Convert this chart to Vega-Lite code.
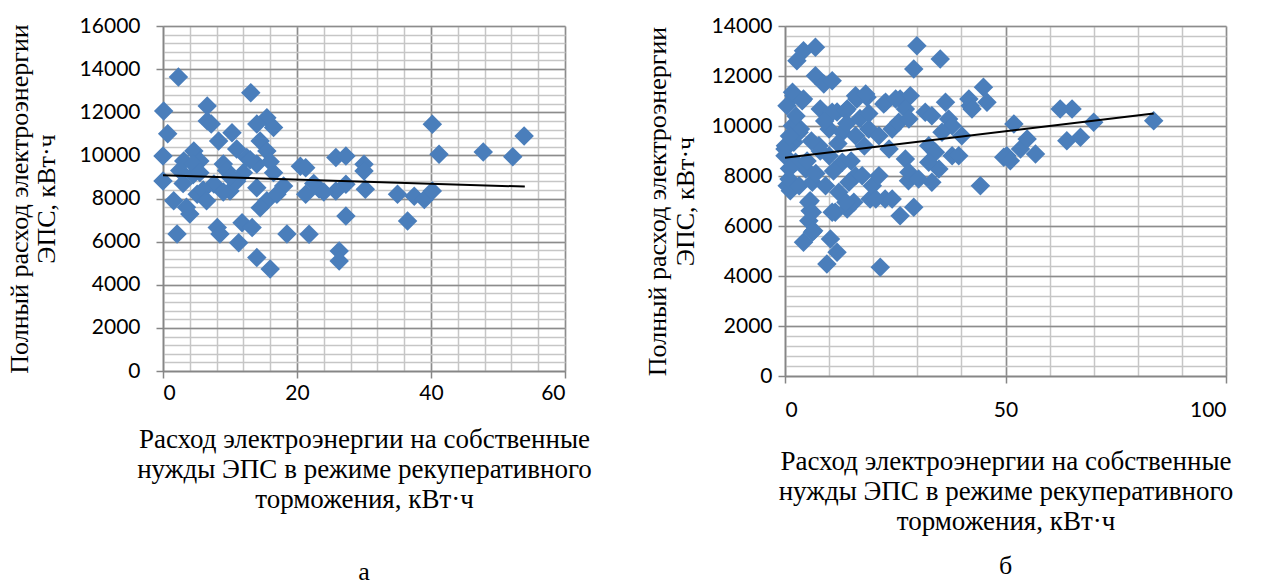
{
  "$schema": "https://vega.github.io/schema/vega-lite/v6.json",
  "background": "white",
  "padding": {"left": 6, "top": 15, "right": 5, "bottom": 5},
  "bounds": "flush",
  "spacing": 220,
  "config": {"view": {"stroke": null}},
  "datasets": {
    "L": [
      {"x": 0.1, "y": 12060}, {"x": 2.3, "y": 13640}, {"x": 13.1, "y": 12910}, {"x": 6.6, "y": 12290},
      {"x": 0.7, "y": 11000}, {"x": 0, "y": 9970}, {"x": 6.6, "y": 11600}, {"x": 7.2, "y": 11460},
      {"x": 15.5, "y": 11750}, {"x": 16.5, "y": 11290}, {"x": 14, "y": 11450}, {"x": 10.3, "y": 11050},
      {"x": 8.3, "y": 10670}, {"x": 14.5, "y": 10670}, {"x": 15.5, "y": 10200}, {"x": 11, "y": 10300},
      {"x": 4.6, "y": 10200}, {"x": 3.1, "y": 9740}, {"x": 5.5, "y": 9740}, {"x": 0, "y": 8810},
      {"x": 9, "y": 9600}, {"x": 12.5, "y": 9900}, {"x": 14, "y": 9600}, {"x": 20.5, "y": 9500},
      {"x": 1.6, "y": 7890}, {"x": 4, "y": 7280}, {"x": 5.1, "y": 8200}, {"x": 7.6, "y": 8670},
      {"x": 10, "y": 8350}, {"x": 14, "y": 8500}, {"x": 15.5, "y": 7890}, {"x": 14.5, "y": 7570},
      {"x": 18, "y": 8580}, {"x": 2.1, "y": 6350}, {"x": 8.1, "y": 6650}, {"x": 8.5, "y": 6350},
      {"x": 11.3, "y": 5950}, {"x": 11.8, "y": 6880}, {"x": 13.3, "y": 6650}, {"x": 14, "y": 5260},
      {"x": 16, "y": 4730}, {"x": 18.5, "y": 6350}, {"x": 40.2, "y": 11440}, {"x": 41.2, "y": 10050},
      {"x": 21.3, "y": 9430}, {"x": 25.8, "y": 9900}, {"x": 27.3, "y": 9970}, {"x": 30, "y": 9585},
      {"x": 30, "y": 9280}, {"x": 30.2, "y": 8430}, {"x": 27.3, "y": 8660}, {"x": 25.8, "y": 8350},
      {"x": 23.3, "y": 8440}, {"x": 21.3, "y": 8200}, {"x": 27.3, "y": 7190}, {"x": 21.8, "y": 6340},
      {"x": 26.3, "y": 5570}, {"x": 26.3, "y": 5100}, {"x": 35, "y": 8200}, {"x": 36.5, "y": 6960},
      {"x": 37.5, "y": 8100}, {"x": 39, "y": 7950}, {"x": 40.2, "y": 8350}, {"x": 53.9, "y": 10900},
      {"x": 52.2, "y": 9940}, {"x": 47.8, "y": 10160}, {"x": 3, "y": 8700}, {"x": 4.5, "y": 9100},
      {"x": 6, "y": 8400}, {"x": 9.5, "y": 9300}, {"x": 12, "y": 9200}, {"x": 16.5, "y": 9200},
      {"x": 17, "y": 8200}, {"x": 22.5, "y": 8700}, {"x": 24, "y": 8300}, {"x": 2.5, "y": 9300},
      {"x": 6.5, "y": 7900}, {"x": 11, "y": 8800}, {"x": 13, "y": 9800}, {"x": 9, "y": 8300},
      {"x": 3.5, "y": 7600}, {"x": 4.5, "y": 9600}, {"x": 5.5, "y": 9200}, {"x": 10, "y": 9000},
      {"x": 16, "y": 9700}
    ],
    "R": [
      {"x": 2.7, "y": 12610}, {"x": 4.2, "y": 13010}, {"x": 6.9, "y": 13150}, {"x": 6.9, "y": 12010},
      {"x": 8.8, "y": 11680}, {"x": 10.7, "y": 11810}, {"x": 0.45, "y": 10810}, {"x": 2, "y": 11210},
      {"x": 4.2, "y": 11080}, {"x": 8, "y": 10680}, {"x": 11.8, "y": 10560}, {"x": 14.1, "y": 10680},
      {"x": 16.3, "y": 11080}, {"x": 18.6, "y": 11150}, {"x": 22.4, "y": 10880}, {"x": 26.1, "y": 11080},
      {"x": 28.4, "y": 11210}, {"x": 29.2, "y": 12280}, {"x": 29.9, "y": 13210}, {"x": 35.2, "y": 12680},
      {"x": 42, "y": 10810}, {"x": 45, "y": 11550}, {"x": 45.8, "y": 10950}, {"x": 50.3, "y": 8810},
      {"x": 44.3, "y": 7610}, {"x": 0.5, "y": 7610}, {"x": 0, "y": 9080}, {"x": 2, "y": 9350},
      {"x": 3.5, "y": 9880}, {"x": 1.2, "y": 7410}, {"x": 5.7, "y": 7010}, {"x": 5.7, "y": 6610},
      {"x": 5.4, "y": 6210}, {"x": 6.5, "y": 5810}, {"x": 4.2, "y": 5350}, {"x": 10.3, "y": 5480},
      {"x": 11.8, "y": 4950}, {"x": 9.5, "y": 4480}, {"x": 11.4, "y": 6550}, {"x": 14.1, "y": 6680},
      {"x": 15.6, "y": 6950}, {"x": 19.3, "y": 7080}, {"x": 22.7, "y": 7080}, {"x": 26.1, "y": 6410},
      {"x": 29.2, "y": 6750}, {"x": 21.6, "y": 4350}, {"x": 28, "y": 7810}, {"x": 33.3, "y": 7750},
      {"x": 62.4, "y": 10680}, {"x": 65.1, "y": 10680}, {"x": 70, "y": 10150}, {"x": 83.6, "y": 10210},
      {"x": 51.9, "y": 10080}, {"x": 49.6, "y": 8750}, {"x": 51.1, "y": 8610}, {"x": 53.4, "y": 9080},
      {"x": 54.9, "y": 9480}, {"x": 56.8, "y": 8880}, {"x": 63.9, "y": 9410}, {"x": 67, "y": 9550},
      {"x": 1.7, "y": 11350}, {"x": 3.9, "y": 11010}, {"x": 16, "y": 11210}, {"x": 18.3, "y": 11280},
      {"x": 22.8, "y": 10950}, {"x": 25.1, "y": 11080}, {"x": 10.7, "y": 10550}, {"x": 13.8, "y": 10610},
      {"x": 1.7, "y": 10010}, {"x": 3.2, "y": 9750}, {"x": 0.1, "y": 9210}, {"x": 7.7, "y": 9210},
      {"x": 10, "y": 9880}, {"x": 13, "y": 9750}, {"x": 16, "y": 9610}, {"x": 19, "y": 9880},
      {"x": 21.3, "y": 9610}, {"x": 23.6, "y": 9080}, {"x": 0, "y": 8810}, {"x": 2.4, "y": 8550},
      {"x": 4.7, "y": 8280}, {"x": 10, "y": 8810}, {"x": 13, "y": 8550}, {"x": 16, "y": 8010},
      {"x": 0.9, "y": 7880}, {"x": 3.2, "y": 7610}, {"x": 6.2, "y": 7750}, {"x": 9.2, "y": 7610},
      {"x": 12.2, "y": 7350}, {"x": 14.5, "y": 7750}, {"x": 17.5, "y": 8010}, {"x": 19.8, "y": 7610},
      {"x": 21.3, "y": 8010}, {"x": 20.6, "y": 7080}, {"x": 5.4, "y": 6950}, {"x": 6.2, "y": 6550},
      {"x": 10.7, "y": 6550}, {"x": 13.8, "y": 6950}, {"x": 6.2, "y": 5750}, {"x": 27.3, "y": 10680},
      {"x": 31.8, "y": 10550}, {"x": 33.3, "y": 10410}, {"x": 36.4, "y": 10950}, {"x": 37.1, "y": 10280},
      {"x": 41.7, "y": 11080}, {"x": 42.4, "y": 10680}, {"x": 24.3, "y": 9880}, {"x": 25.8, "y": 10150},
      {"x": 28.1, "y": 10280}, {"x": 37.9, "y": 10010}, {"x": 40.1, "y": 9610}, {"x": 35.6, "y": 9750},
      {"x": 32.6, "y": 9210}, {"x": 34.1, "y": 8950}, {"x": 37.9, "y": 8810}, {"x": 39.4, "y": 8810},
      {"x": 27.3, "y": 8680}, {"x": 28.1, "y": 8150}, {"x": 30.3, "y": 7880}, {"x": 34.9, "y": 8280},
      {"x": 32.6, "y": 8550}, {"x": 24.3, "y": 7080}, {"x": 6, "y": 9400}, {"x": 8, "y": 9000},
      {"x": 12, "y": 9300}, {"x": 14, "y": 10100}, {"x": 17, "y": 10300}, {"x": 19, "y": 10500},
      {"x": 9, "y": 10200}, {"x": 11, "y": 8200}, {"x": 15, "y": 8600}, {"x": 18, "y": 9200},
      {"x": 5, "y": 8600}, {"x": 7, "y": 8100}, {"x": 1, "y": 9600}, {"x": 2.5, "y": 10400},
      {"x": 1, "y": 8300}
    ],
    "Lt": [{"x": 0, "y": 9075}, {"x": 54, "y": 8552.2}],
    "Rt": [{"x": 0, "y": 8728.5}, {"x": 83.6, "y": 10497.2}]
  },
  "hconcat": [
    {
      "width": 402,
      "height": 345,
      "title": {"text": "а", "orient": "bottom", "font": "Liberation Serif", "fontSize": 26, "fontWeight": "normal", "color": "black", "offset": 47},
      "resolve": {"axis": {"x": "independent", "y": "independent"}},
      "layer": [
        {
          "data": {"name": "L"},
          "mark": {"type": "point", "shape": "diamond", "filled": true, "size": 380, "color": "#4a7ebb", "opacity": 1},
          "encoding": {
            "x": {"field": "x", "type": "quantitative", "scale": {"domain": [0, 60], "nice": false, "zero": false},
              "axis": {"orient": "bottom", "values": [0,4,8,12,16,20,24,28,32,36,40,44,48,52,56,60], "grid": true, "gridColor": "#c6c6c6", "gridWidth": 1.5, "labels": false, "ticks": false, "domain": false, "title": null}},
            "y": {"field": "y", "type": "quantitative", "scale": {"domain": [0, 16000], "nice": false, "zero": false},
              "axis": {"orient": "left", "values": [0,400,800,1200,1600,2000,2400,2800,3200,3600,4000,4400,4800,5200,5600,6000,6400,6800,7200,7600,8000,8400,8800,9200,9600,10000,10400,10800,11200,11600,12000,12400,12800,13200,13600,14000,14400,14800,15200,15600,16000], "grid": true, "gridColor": "#c6c6c6", "gridWidth": 1.5, "labels": false, "ticks": false, "domain": false, "title": null}}
          }
        },
        {
          "data": {"name": "Lt"},
          "mark": {"type": "line", "color": "black", "strokeWidth": 2},
          "encoding": {
            "x": {"field": "x", "type": "quantitative",
              "axis": {"orient": "bottom", "values": [0, 20, 40, 60], "grid": true, "gridColor": "#8c8c8c", "gridWidth": 1.5, "domainColor": "#868686", "domainWidth": 1.5, "tickColor": "#868686", "tickWidth": 1.5, "tickSize": 7, "labelFont": "Lato", "labelFontSize": 21, "labelColor": "black", "labelPadding": 4,
                "title": ["Расход электроэнергии на собственные", "нужды ЭПС в режиме рекуперативного", "торможения, кВт·ч"], "titleFont": "Liberation Serif", "titleFontSize": 27, "titleFontWeight": "normal", "titleColor": "black", "titleLineHeight": 30, "titlePadding": 23}},
            "y": {"field": "y", "type": "quantitative",
              "axis": {"orient": "left", "values": [0,2000,4000,6000,8000,10000,12000,14000,16000], "format": "d", "grid": true, "gridColor": "#8c8c8c", "gridWidth": 1.5, "domainColor": "#868686", "domainWidth": 1.5, "tickColor": "#868686", "tickWidth": 1.5, "tickSize": 7, "labelFont": "Lato", "labelFontSize": 21, "labelColor": "black", "labelPadding": 16,
                "title": ["Полный расход электроэнергии", "ЭПС, кВт·ч"], "titleFont": "Liberation Serif", "titleFontSize": 26, "titleFontWeight": "normal", "titleColor": "black", "titleLineHeight": 27, "titlePadding": 20}}
          }
        },
        {
          "mark": {"type": "text", "font": "Lato", "fontSize": 21, "color": "black", "align": "center", "baseline": "middle"},
          "encoding": {
            "x": {"datum": 36, "type": "quantitative", "axis": null},
            "y": {"datum": 15120, "type": "quantitative", "axis": null},
            "text": {"value": "y = -9,682x + 9075"}
          }
        },
        {
          "mark": {"type": "text", "font": "Lato", "fontSize": 21, "color": "black", "align": "center", "baseline": "middle"},
          "encoding": {
            "x": {"datum": 36.3, "type": "quantitative", "axis": null},
            "y": {"datum": 13640, "type": "quantitative", "axis": null},
            "text": {"value": "R² = 0,0045"}
          }
        }
      ]
    },
    {
      "width": 441,
      "height": 350,
      "title": {"text": "б", "orient": "bottom", "font": "Liberation Serif", "fontSize": 26, "fontWeight": "normal", "color": "black", "offset": 19},
      "resolve": {"axis": {"x": "independent", "y": "independent"}},
      "layer": [
        {
          "data": {"name": "R"},
          "mark": {"type": "point", "shape": "diamond", "filled": true, "size": 380, "color": "#4a7ebb", "opacity": 1},
          "encoding": {
            "x": {"field": "x", "type": "quantitative", "scale": {"domain": [0, 100], "nice": false, "zero": false},
              "axis": {"orient": "bottom", "values": [0,10,20,30,40,50,60,70,80,90,100], "grid": true, "gridColor": "#c6c6c6", "gridWidth": 1.5, "labels": false, "ticks": false, "domain": false, "title": null}},
            "y": {"field": "y", "type": "quantitative", "scale": {"domain": [0, 14000], "nice": false, "zero": false},
              "axis": {"orient": "left", "values": [0,400,800,1200,1600,2000,2400,2800,3200,3600,4000,4400,4800,5200,5600,6000,6400,6800,7200,7600,8000,8400,8800,9200,9600,10000,10400,10800,11200,11600,12000,12400,12800,13200,13600,14000], "grid": true, "gridColor": "#c6c6c6", "gridWidth": 1.5, "labels": false, "ticks": false, "domain": false, "title": null}}
          }
        },
        {
          "data": {"name": "Rt"},
          "mark": {"type": "line", "color": "black", "strokeWidth": 2},
          "encoding": {
            "x": {"field": "x", "type": "quantitative",
              "axis": {"orient": "bottom", "values": [0, 50, 100], "grid": true, "gridColor": "#8c8c8c", "gridWidth": 1.5, "domainColor": "#868686", "domainWidth": 1.5, "tickColor": "#868686", "tickWidth": 1.5, "tickSize": 7, "labelFont": "Lato", "labelFontSize": 21, "labelColor": "black", "labelPadding": 16,
                "title": ["Расход электроэнергии на собственные", "нужды ЭПС в режиме рекуперативного", "торможения, кВт·ч"], "titleFont": "Liberation Serif", "titleFontSize": 27, "titleFontWeight": "normal", "titleColor": "black", "titleLineHeight": 30, "titlePadding": 28}},
            "y": {"field": "y", "type": "quantitative",
              "axis": {"orient": "left", "values": [0,2000,4000,6000,8000,10000,12000,14000], "format": "d", "grid": true, "gridColor": "#8c8c8c", "gridWidth": 1.5, "domainColor": "#868686", "domainWidth": 1.5, "tickColor": "#868686", "tickWidth": 1.5, "tickSize": 7, "labelFont": "Lato", "labelFontSize": 21, "labelColor": "black", "labelPadding": 6,
                "title": ["Полный расход электроэнергии", "ЭПС, кВт·ч"], "titleFont": "Liberation Serif", "titleFontSize": 26, "titleFontWeight": "normal", "titleColor": "black", "titleLineHeight": 28, "titlePadding": 13}}
          }
        },
        {
          "mark": {"type": "text", "font": "Lato", "fontSize": 21, "color": "black", "align": "center", "baseline": "middle"},
          "encoding": {
            "x": {"datum": 53.7, "type": "quantitative", "axis": null},
            "y": {"datum": 13320, "type": "quantitative", "axis": null},
            "text": {"value": "y = 21,157x + 8728,5"}
          }
        },
        {
          "mark": {"type": "text", "font": "Lato", "fontSize": 21, "color": "black", "align": "center", "baseline": "middle"},
          "encoding": {
            "x": {"datum": 54.6, "type": "quantitative", "axis": null},
            "y": {"datum": 12040, "type": "quantitative", "axis": null},
            "text": {"value": "R² = 0,0438"}
          }
        }
      ]
    }
  ]
}
